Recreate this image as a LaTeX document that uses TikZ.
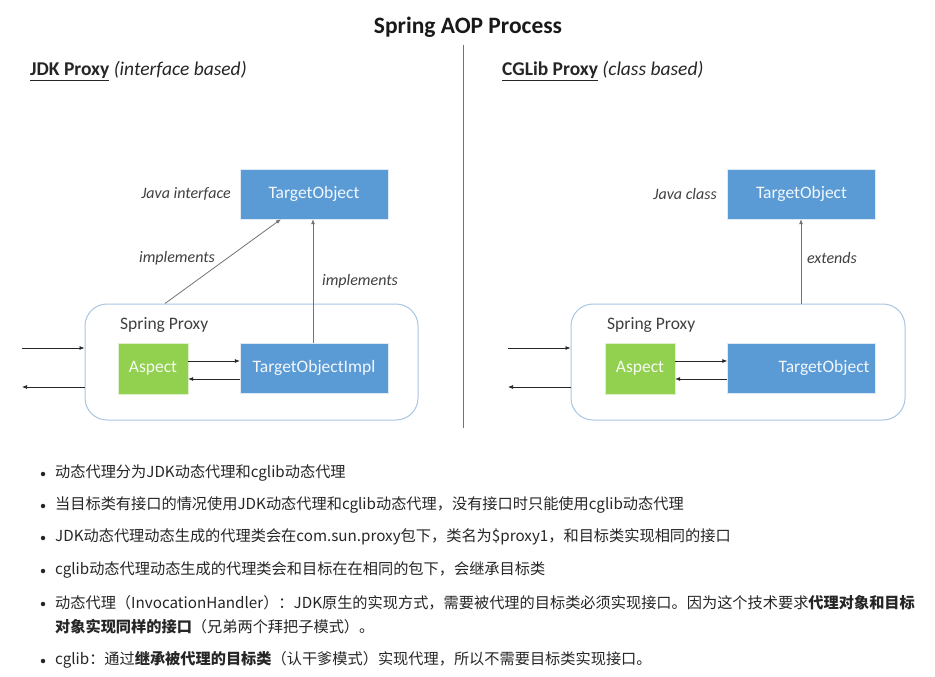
\documentclass[tikz,border=0pt]{standalone}
\usepackage{fontspec}
\setmainfont{Carlito}
\newfontfamily\cjk{Noto Sans CJK SC}
\usetikzlibrary{arrows.meta}
\definecolor{boxblue}{HTML}{5B9BD5}
\definecolor{boxgreen}{HTML}{92D050}
\definecolor{frameblue}{HTML}{A9C6E3}
\definecolor{txtgray}{HTML}{404040}
\definecolor{bodytxt}{HTML}{262626}
\tikzset{
  x=1pt, y=-1pt,
  bluebox/.style={draw=white!80!boxblue, fill=boxblue, minimum width=148pt, minimum height=50pt, text=white!92!boxblue, font=\fontsize{17.5}{19}\selectfont, inner sep=0pt},
  greenbox/.style={draw=white!70!boxgreen, fill=boxgreen, minimum width=70pt, minimum height=51pt, text=white!92!boxgreen, font=\fontsize{17.5}{19}\selectfont, inner sep=0pt},
  proxyframe/.style={draw=frameblue, line width=1pt, rounded corners=22pt, minimum width=333pt, minimum height=116pt},
  lbl/.style={text=txtgray, font=\fontsize{16}{18}\selectfont\itshape, inner sep=0pt},
  hdr/.style={text=bodytxt, font=\fontsize{19.5}{22}\selectfont, inner sep=0pt, anchor=west},
  arr/.style={-{Latex[length=5pt,width=4pt]}, line width=0.7pt, draw=black!85},
  conn/.style={-{Latex[length=5pt,width=4pt]}, line width=0.8pt, draw=black!55},
  bul/.style={anchor=west, inner sep=0pt, text=bodytxt, font=\cjk\fontsize{15.2}{18}\selectfont},
  dot/.style={circle, fill=bodytxt, inner sep=0pt, minimum size=4.5pt}
}
\begin{document}
\begin{tikzpicture}
\useasboundingbox (0,0) rectangle (935,677);
\fill[white] (0,0) rectangle (935,677);

% title
\node[text=black!90, font=\fontsize{23.5}{26}\selectfont\bfseries, inner sep=0pt] (title) at (468,27) {Spring AOP Process};
\coordinate (divtop) at (463,45);
\coordinate (divbot) at (463,428);
\draw[black!55, line width=0.8pt] (divtop) -- (divbot);

% headers
\node[hdr] (hl) at (30,71) {\textbf{\underline{JDK Proxy}} \textit{(interface based)}};
\node[hdr] (hr) at (502,71) {\textbf{\underline{CGLib Proxy}} \textit{(class based)}};

% ---------- left ----------
\node[bluebox] (ltop) at (314,194) {TargetObject};
\node[lbl, anchor=east] (ljava) at (231,194) {Java interface};
\node[proxyframe] (lproxy) at (251.5,362) {};
\node[anchor=west, text=txtgray, font=\fontsize{17.5}{19}\selectfont, inner sep=0pt] (lsp) at (120,325) {Spring Proxy};
\node[greenbox] (lasp) at (153,368.5) {Aspect};
\node[bluebox] (limpl) at (314,368) {TargetObjectImpl};
\draw[arr] (lasp.east |- 0,361) -- (limpl.west |- 0,361);
\draw[arr] (limpl.west |- 0,379) -- (lasp.east |- 0,379);
\coordinate (lin) at (22,348);
\coordinate (lout) at (22,387);
\draw[arr] (lin) -- (lproxy.west |- lin);
\draw[arr] (lproxy.west |- lout) -- (lout);
\draw[conn] (lproxy.north -| 165,0) -- (ltop.south -| 281,0);
\draw[conn] (limpl.north -| 313,0) -- (ltop.south -| 313,0);
\node[lbl] (limp1) at (177,258) {implements};
\node[lbl] (limp2) at (360,281) {implements};

% ---------- right ----------
\node[bluebox] (rtop) at (801.5,194) {TargetObject};
\node[lbl, anchor=east] (rjava) at (717,194) {Java class};
\node[proxyframe, minimum width=334pt] (rproxy) at (738,362) {};
\node[anchor=west, text=txtgray, font=\fontsize{17.5}{19}\selectfont, inner sep=0pt] (rsp) at (607,325) {Spring Proxy};
\node[greenbox] (rasp) at (640,368.5) {Aspect};
\node[bluebox, text width=136pt, align=right] (rtgt) at (801.5,368) {TargetObject};
\draw[arr] (rasp.east |- 0,361) -- (rtgt.west |- 0,361);
\draw[arr] (rtgt.west |- 0,379) -- (rasp.east |- 0,379);
\coordinate (rin) at (508,348);
\coordinate (rout) at (508,387);
\draw[arr] (rin) -- (rproxy.west |- rin);
\draw[arr] (rproxy.west |- rout) -- (rout);
\draw[conn] (rproxy.north -| 801,0) -- (rtop.south -| 801,0);
\node[lbl] (rext) at (832,258) {extends};

% ---------- bullets ----------
\node[dot] (d1) at (43,474) {};
\node[bul] (b1) at (55,473) {动态代理分为JDK动态代理和cglib动态代理};
\node[dot] (d2) at (43,506) {};
\node[bul] (b2) at (55,505) {当目标类有接口的情况使用JDK动态代理和cglib动态代理，没有接口时只能使用cglib动态代理};
\node[dot] (d3) at (43,538) {};
\node[bul] (b3) at (55,537) {JDK动态代理动态生成的代理类会在com.sun.proxy包下，类名为\$proxy1，和目标类实现相同的接口};
\node[dot] (d4) at (43,571) {};
\node[bul] (b4) at (55,570) {cglib动态代理动态生成的代理类会和目标在在相同的包下，会继承目标类};
\node[dot] (d5) at (43,604) {};
\node[bul] (b5) at (55,603) {动态代理（InvocationHandler）：JDK原生的实现方式，需要被代理的目标类必须实现接口。因为这个技术要求\textbf{代理对象和目标}};
\node[bul] (b5b) at (55,627) {\textbf{对象实现同样的接口}（兄弟两个拜把子模式）。};
\node[dot] (d6) at (43,661) {};
\node[bul] (b6) at (55,660) {cglib：通过\textbf{继承被代理的目标类}（认干爹模式）实现代理，所以不需要目标类实现接口。};
\end{tikzpicture}
\end{document}
